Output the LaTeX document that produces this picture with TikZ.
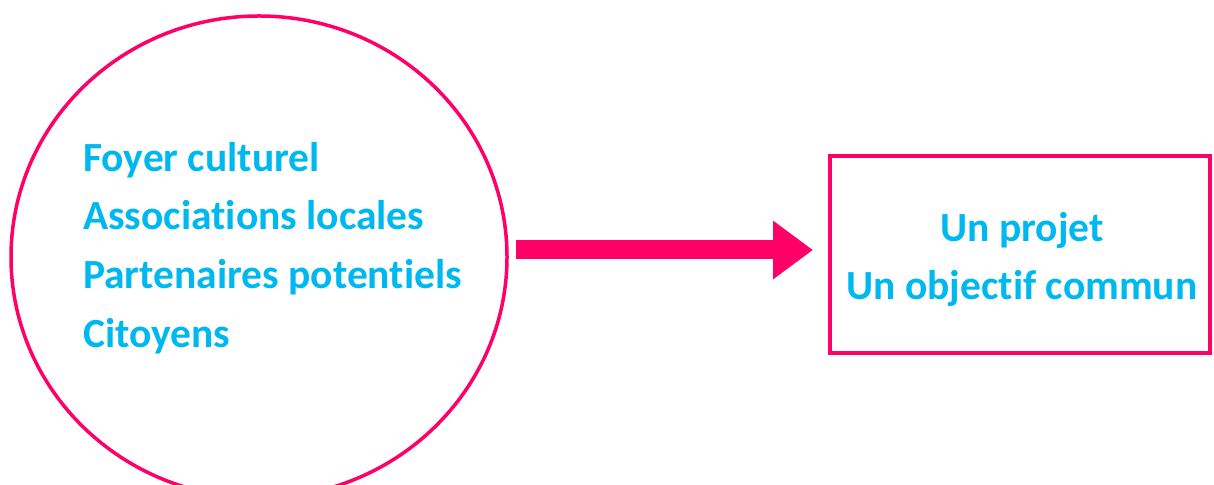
\documentclass[tikz,border=0pt]{standalone}
\usepackage{fontspec}
\setmainfont[Ligatures=NoCommon]{Carlito}
\usetikzlibrary{shapes.geometric}
\usetikzlibrary{arrows.meta}
\usetikzlibrary{positioning}

\definecolor{rose}{RGB}{255,0,102}
\definecolor{ciel}{RGB}{0,184,240}

\begin{document}
\begin{tikzpicture}[x=1pt,y=1pt]
\tikzstyle{txt} = [text=ciel,font=\fontsize{41.5}{58.7}\selectfont\bfseries,inner sep=0pt]
\tikzstyle{flow} = [rose,line width=19pt,-{Triangle[length=40pt,width=56pt]}]

\useasboundingbox (0,0) rectangle (1214,484);

\node[draw=rose,line width=3.5pt,ellipse,minimum width=496pt,minimum height=482pt] (grp) at (259,227) {};
\node[txt,align=left,anchor=west] (lst) at (83,236) {Foyer culturel\\Associations locales\\Partenaires potentiels\\Citoyens};

\node[draw=rose,line width=4pt,minimum width=380pt,minimum height=197pt] (box) at (1020,229.5) {};
\node[txt,align=center] (goal) at ([xshift=2pt,yshift=-5pt]box.center) {Un projet\\Un objectif commun};

\coordinate (tip) at ([yshift=4.5pt]box.west);
\draw[flow,shorten <=7pt,shorten >=15pt] (grp.east |- tip) -- (tip);

\end{tikzpicture}
\end{document}
